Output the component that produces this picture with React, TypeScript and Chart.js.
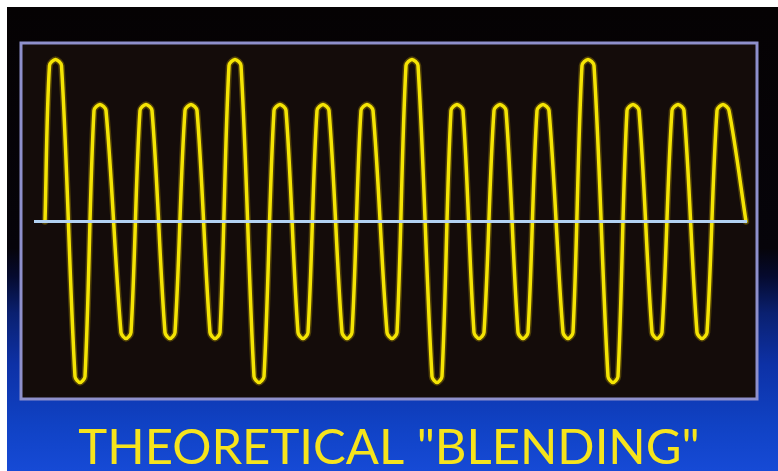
import React, { useEffect, useRef } from "react";
import { Chart, registerables } from "chart.js";

Chart.register(...registerables);

// Waveform trace: x = horizontal position (screen units),
// y = displacement from the zero line (screen units, up positive).
// Each extreme is given by its two shoulders and its apex.
const traceX = [
  45,
  49.5, 55.5, 61.5, 75, 80, 85, 94, 100, 106, 121, 126, 131,
  140, 146, 152, 165, 170, 175, 185, 191, 197, 210, 215, 220,
  229, 235, 241, 254, 259, 264, 274, 280, 286, 298, 303, 308,
  317, 323, 329, 342, 347, 352, 361, 367, 373, 387, 392, 397,
  406, 412, 418, 432, 437, 442, 451, 457, 463, 474, 479, 484,
  494, 500, 506, 518, 523, 528, 537, 543, 549, 563, 568, 573,
  582, 588, 594, 608, 613, 618, 627, 633, 639, 652, 657, 662,
  672, 678, 684, 697, 702, 707, 717, 723, 729,
  746,
];
const traceY = [
  0,
  156, 162, 156, -155, -161, -155, 111, 117, 111, -111, -117, -111,
  111, 117, 111, -111, -117, -111, 111, 117, 111, -111, -117, -111,
  156, 162, 156, -155, -161, -155, 111, 117, 111, -111, -117, -111,
  111, 117, 111, -111, -117, -111, 111, 117, 111, -111, -117, -111,
  156, 162, 156, -155, -161, -155, 111, 117, 111, -111, -117, -111,
  111, 117, 111, -111, -117, -111, 111, 117, 111, -111, -117, -111,
  156, 162, 156, -155, -161, -155, 111, 117, 111, -111, -117, -111,
  111, 117, 111, -111, -117, -111, 111, 117, 111,
  0,
];
const zeroLineX = [34, 747];
const zeroLineY = [0, 0];
const titleText = 'THEORETICAL "BLENDING"';

const bgPlugin = {
  id: "scopeBackground",
  beforeDraw(chart: any) {
    const { ctx, width, height, chartArea } = chart;
    ctx.save();
    const g = ctx.createLinearGradient(0, 0, 0, height);
    g.addColorStop(0, "#050203");
    g.addColorStop(0.52, "#06040a");
    g.addColorStop(0.58, "#050a2e");
    g.addColorStop(0.66, "#0a2070");
    g.addColorStop(0.77, "#0d31a6");
    g.addColorStop(0.9, "#1042c4");
    g.addColorStop(1, "#164ad6");
    ctx.fillStyle = g;
    ctx.fillRect(0, 0, width, height);
    const { left, top, right, bottom } = chartArea;
    ctx.fillStyle = "#140c0a";
    ctx.fillRect(left, top, right - left, bottom - top);
    ctx.strokeStyle = "#8e90cc";
    ctx.lineWidth = 3;
    ctx.strokeRect(left, top, right - left, bottom - top);
    ctx.restore();
  },
};

export default function App() {
  const ref = useRef<HTMLCanvasElement>(null);
  useEffect(() => {
    if (!ref.current) return;
    const wave = traceX.map((x, i) => ({ x, y: traceY[i] }));
    const zero = zeroLineX.map((x, i) => ({ x, y: zeroLineY[i] }));
    const chart = new Chart(ref.current, {
      type: "line",
      data: {
        datasets: [
          {
            data: zero,
            borderColor: "#b2d2f2",
            borderWidth: 3,
            pointRadius: 0,
            tension: 0,
            order: 0,
          },
          {
            data: wave,
            borderColor: "#f4e404",
            borderWidth: 3.5,
            pointRadius: 0,
            tension: 0.3,
            borderJoinStyle: "round",
            borderCapStyle: "round",
            order: 1,
          },
          {
            data: wave,
            borderColor: "rgba(190,160,0,0.35)",
            borderWidth: 6.5,
            pointRadius: 0,
            tension: 0.3,
            borderJoinStyle: "round",
            borderCapStyle: "round",
            order: 2,
          },
        ],
      },
      options: {
        animation: false,
        responsive: false,
        events: [],
        layout: { padding: { left: 14, right: 21, top: 36, bottom: 0 } },
        scales: {
          x: { type: "linear", min: 21, max: 757, display: false },
          y: { type: "linear", min: -177.5, max: 178.5, display: false },
        },
        plugins: {
          legend: { display: false },
          tooltip: { enabled: false },
          title: {
            display: true,
            position: "bottom",
            text: titleText,
            color: "#f6e41c",
            font: { family: "Lato", size: 49, weight: "normal", lineHeight: 0.9 },
            padding: { top: 27, bottom: 0.9 },
          },
        },
      },
      plugins: [bgPlugin],
    });
    return () => chart.destroy();
  }, []);
  return (
    <div style={{ position: "fixed", left: 7, top: 7, width: 771, height: 464 }}>
      <canvas ref={ref} width={771} height={464} style={{ display: "block" }} />
    </div>
  );
}
